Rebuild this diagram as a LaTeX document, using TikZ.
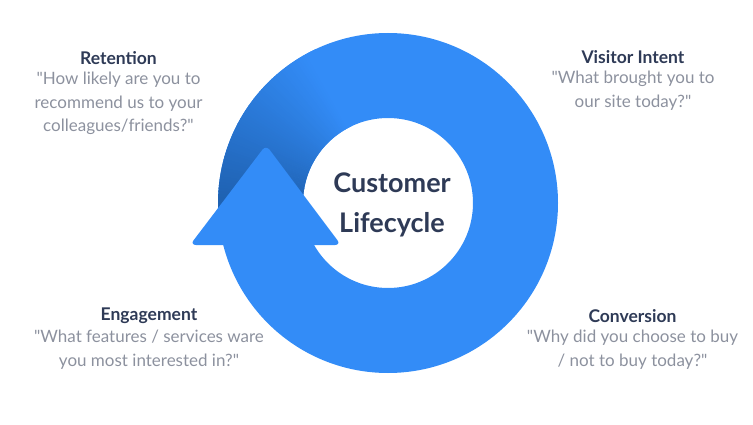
\documentclass[tikz,border=0pt]{standalone}
\usepackage{fontspec}
\setmainfont{Lato}[Ligatures=TeXOff]
\definecolor{ringblue}{HTML}{338CF7}
\definecolor{ringdark}{HTML}{1F62B2}
\definecolor{titlecol}{HTML}{2E3A56}
\definecolor{quotecol}{HTML}{8C919E}
\newcommand{\sq}{"}
\begin{document}
\begin{tikzpicture}[x=1pt,y=1pt,
  ttl/.style={font=\fontsize{17.5}{20}\selectfont\bfseries, text=titlecol, inner sep=0pt},
  qt/.style={font=\fontsize{17}{23.5}\selectfont, text=quotecol, align=center, inner sep=0pt},
  ctr/.style={font=\fontsize{27}{40}\selectfont\bfseries, text=titlecol, align=center, inner sep=0pt}]
\useasboundingbox (0,0) rectangle (753,424);
\coordinate (c) at (388,221);
% ring
\fill[ringblue,even odd rule] (c) circle[radius=170] (c) circle[radius=85];
% dark gradient on tail
\foreach \a in {115,...,190}{
  \pgfmathsetmacro{\p}{max(0,min(100,(\a-118)/(178-118)*100))}
  \fill[ringdark!\p!ringblue] ([shift={(\a:170)}]c) arc[start angle=\a,end angle=\a+1.2,radius=170]
    -- ([shift={(\a+1.2:85)}]c) arc[start angle=\a+1.2,end angle=\a,radius=85] -- cycle;
}
% arrowhead
\fill[ringblue,rounded corners=6pt] (190,179) -- (266,279) -- (341,179) -- cycle;
% centre text
\node[ctr] (cl) at (392,219) {Customer\\Lifecycle};
% labels
\node[ttl] (ret) at (118.5,366) {Retention};
\node[qt,anchor=north] (retq) at (118.5,352) {\sq How likely are you to\\recommend us to your\\colleagues/friends?\sq};
\node[ttl] (vis) at (633,367) {Visitor Intent};
\node[qt,anchor=north] (visq) at (633,353) {\sq What brought you to\\our site today?\sq};
\node[ttl] (eng) at (149,108) {Engagement};
\node[qt,anchor=north] (engq) at (149,94) {\sq What features / services ware\\you most interested in?\sq};
\node[ttl] (con) at (632.5,108) {Conversion};
\node[qt,anchor=north] (conq) at (632.5,94) {\sq Why did you choose to buy\\/ not to buy today?\sq};
\end{tikzpicture}
\end{document}
